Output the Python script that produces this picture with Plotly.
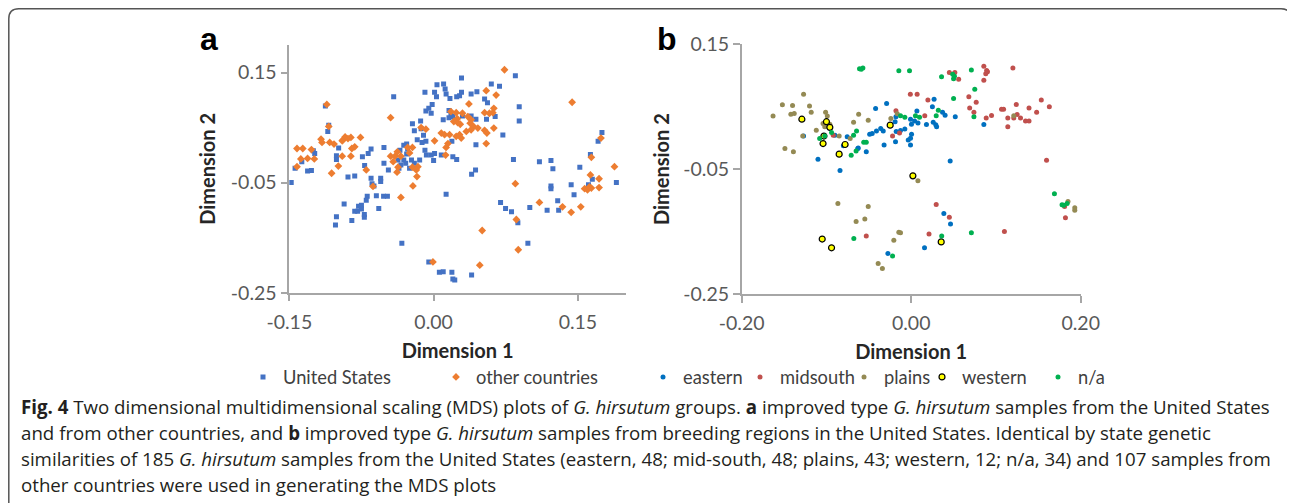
import plotly.graph_objects as go

# ---------------- Panel a data ----------------
us_x = [-0.0415, -0.1125, -0.109, -0.110, -0.1236, -0.125, -0.137, -0.144, -0.131, -0.127,
        -0.148, -0.0987, -0.101, -0.101, -0.074, -0.068, -0.065, -0.0717, -0.0516, -0.0516,
        -0.047, -0.089, -0.082, -0.065, -0.064, -0.062, -0.055, -0.055, -0.069, -0.070,
        -0.0595, -0.052, -0.048, -0.057, -0.093, -0.078, -0.075, -0.079, -0.075, -0.072,
        -0.072, -0.082, -0.101, -0.102, -0.085, -0.033, -0.037, -0.036, -0.031, -0.031,
        0.029, 0.085, 0.0035, 0.0104, -0.009, 0.001, 0.003, -0.0015, -0.005, -0.0025,
        -0.008, 0.012, 0.013, 0.017, 0.024, 0.027, 0.029, 0.039, 0.045, 0.060,
        0.0685, 0.053, 0.056, 0.016, 0.018, 0.020, 0.016, 0.010, 0.030, 0.039,
        0.044, 0.055, 0.064, 0.089, 0.089, -0.022, -0.020, -0.0135, -0.013, -0.017,
        -0.0105, -0.008, -0.028, -0.035, -0.027, -0.028, -0.009, -0.0075, -0.0025, 0.001,
        -0.012, -0.0145, 0.000, -0.023, -0.020, -0.025, -0.034, -0.029, 0.008, 0.020,
        0.024, 0.019, 0.044, 0.083, 0.0436, 0.0395, 0.013, -0.005, 0.006, 0.010,
        0.019, 0.020, 0.022, 0.0395, 0.0696, 0.0748, 0.081, 0.0876, 0.072,
        0.175, 0.171, 0.163, 0.161, 0.165, 0.110, 0.122, 0.124, 0.152, 0.122,
        0.122, 0.143, 0.190, 0.146, 0.129, 0.100, 0.118, 0.130, 0.098]
us_y = [0.106, 0.089, 0.054, 0.043, 0.003, 0.008, -0.012, -0.024, -0.029, -0.028,
        -0.050, 0.013, -0.001, -0.008, -0.003, 0.003, 0.011, -0.019, 0.014, -0.015,
        -0.027, -0.040, -0.038, -0.042, -0.052, -0.056, -0.042, -0.048, -0.075, -0.082,
        -0.074, -0.075, -0.075, -0.097, -0.089, -0.093, -0.091, -0.102, -0.098, -0.108,
        -0.113, -0.102, -0.112, -0.127, -0.119, -0.160, -0.009, -0.024, -0.009, 0.018,
        0.140, 0.144, 0.128, 0.129, 0.114, 0.114, 0.106, 0.092, 0.085, 0.076,
        0.080, 0.120, 0.111, 0.103, 0.106, 0.108, 0.114, 0.111, 0.115, 0.129,
        0.125, 0.102, 0.095, 0.081, 0.074, 0.070, 0.068, 0.064, 0.071, 0.071,
        0.065, 0.065, 0.070, 0.088, 0.062, 0.057, 0.044, 0.062, 0.048, 0.028,
        0.036, 0.025, 0.020, 0.009, 0.011, 0.002, 0.009, 0.000, 0.000, 0.003,
        0.023, -0.009, -0.010, -0.009, -0.015, -0.024, -0.018, -0.015, 0.000, -0.003,
        -0.008, 0.025, 0.019, -0.008, -0.027, -0.035, -0.071, -0.194, -0.213, -0.212,
        -0.213, -0.225, -0.227, -0.218, -0.086, -0.097, -0.103, -0.123, 0.0366,
        0.041, 0.025, 0.001, -0.054, -0.044, -0.012, -0.010, -0.025, -0.022, -0.056,
        -0.061, -0.054, -0.050, -0.072, -0.083, -0.095, -0.100, -0.100, -0.160]

oc_x = [-0.111, -0.0447, -0.109, -0.117, -0.116, -0.142, -0.136, -0.127, -0.138, -0.131,
        -0.124, -0.142, -0.108, -0.1035, -0.094, -0.092, -0.089, -0.086, -0.076, -0.095,
        -0.085, -0.082, -0.095, -0.086, -0.099, -0.106, -0.070, -0.063, -0.0447, -0.042,
        -0.040, -0.0377, -0.034, -0.037, -0.038, -0.034,
        0.0737, 0.0547, 0.065, 0.0367, 0.0626, 0.0616, 0.053, 0.058, 0.018, 0.0235,
        0.030, 0.0246, 0.021, 0.025, 0.0277, 0.0356, 0.039, 0.038, 0.0415, 0.046,
        -0.008, -0.013, 0.008, 0.0114, 0.0166, 0.0235, 0.027, 0.0287, 0.034, 0.039,
        0.053, 0.0554, 0.0626, 0.0547, 0.001, 0.013, 0.0149, 0.0125, -0.027, -0.022,
        -0.025, -0.022, -0.0163, -0.018, -0.0173, -0.0215, 0.085, 0.086, 0.0505, 0.088,
        -0.0007, 0.048,
        0.144, 0.174, 0.164, 0.188, 0.163, 0.172, 0.172, 0.157, 0.160, 0.162,
        0.164, 0.110, 0.134, 0.143, 0.153]
oc_y = [0.092, 0.068, 0.052, 0.029, 0.023, 0.012, 0.012, 0.010, -0.007, -0.006,
        -0.007, -0.021, 0.023, 0.020, 0.028, 0.033, 0.030, 0.032, 0.032, 0.026,
        0.012, 0.015, -0.002, -0.002, -0.020, -0.033, -0.027, -0.057, -0.002, -0.012,
        -0.002, 0.006, -0.002, -0.022, -0.031, -0.077,
        0.155, 0.117, 0.109, 0.093, 0.085, 0.077, 0.077, 0.076, 0.079, 0.077,
        0.076, 0.066, 0.061, 0.059, 0.056, 0.070, 0.064, 0.058, 0.052, 0.049,
        0.047, 0.050, 0.040, 0.037, 0.037, 0.034, 0.037, 0.031, 0.043, 0.046,
        0.045, 0.040, 0.049, 0.021, 0.026, 0.014, 0.021, 0.000, 0.014, 0.014,
        0.004, -0.022, -0.021, -0.027, -0.039, -0.056, -0.052, -0.117, -0.137, -0.172,
        -0.194, -0.200,
        0.096, 0.031, -0.004, -0.021, -0.036, -0.043, -0.059, -0.061, -0.063, -0.058,
        -0.060, -0.086, -0.094, -0.104, -0.094]

# ---------------- Panel b data ----------------
east_x = [-0.127, -0.090, -0.080, -0.0755, -0.063, -0.110, -0.084, -0.042, -0.029, 0.027,
          0.025, 0.0067, -0.0008, -0.018, -0.019, 0.004, 0.0003, 0.008, 0.018, 0.026,
          0.029, 0.030, 0.037, 0.040, 0.052, -0.0126, -0.0075, -0.0177, -0.036, -0.033,
          -0.041, -0.046, -0.049, 0.0004, -0.0008, -0.0035, -0.0185, -0.032, -0.0008, -0.0625,
          -0.053, 0.046, 0.0385, 0.0464, 0.0157, -0.0275, 0.0857]
east_y = [0.003, 0.0045, -0.0126, 0.002, -0.017, -0.034, -0.052, 0.047, 0.055, 0.062,
          0.050, 0.043, 0.030, 0.034, 0.026, 0.027, 0.022, 0.024, 0.0216, 0.025,
          0.021, 0.018, 0.041, 0.0365, 0.034, 0.012, 0.0145, 0.0105, 0.015, 0.011,
          0.011, 0.007, 0.006, 0.006, -0.0005, -0.0035, -0.006, -0.0115, -0.0115, -0.016,
          -0.022, -0.037, -0.121, -0.138, -0.176, -0.185, 0.0216]

mid_x = [-0.092, -0.001, 0.007, 0.0197, 0.045, 0.0515, 0.056, 0.068, 0.069, 0.074,
         -0.018, 0.016, -0.022, -0.0138, 0.0295, 0.045, 0.021, -0.053, 0.0857, 0.089,
         0.090, 0.088, 0.120, 0.0857, 0.0767, 0.0885, 0.0948, 0.1066, 0.109, 0.124,
         0.139, 0.1535, 0.163, 0.148, 0.114, 0.121, 0.125, 0.129, 0.1349, 0.139,
         0.114, 0.1597, 0.182, 0.181, 0.110]
mid_y = [0.0045, 0.070, 0.070, 0.0606, 0.105, 0.105, 0.094, 0.066, 0.048, 0.041,
         0.0435, 0.0355, 0.003, 0.008, -0.1066, -0.127, -0.154, -0.157, 0.115, 0.108,
         0.106, 0.103, 0.112, 0.0926, 0.057, 0.032, 0.036, 0.046, 0.046, 0.0536,
         0.048, 0.0606, 0.050, 0.041, 0.032, 0.032, 0.0376, 0.032, 0.027, 0.027,
         0.018, -0.0356, -0.128, -0.110, -0.150]

plains_x = [-0.127, -0.152, -0.140, -0.120, -0.163, -0.142, -0.138, -0.118, -0.101, -0.099,
            -0.104, -0.102, -0.099, -0.096, -0.112, -0.128, -0.149, -0.139, -0.085, -0.072,
            -0.068, -0.062, -0.0865, -0.065, -0.0507, -0.024, -0.0165, 0.0079, -0.0507, -0.0547,
            -0.0146, -0.0126, -0.0205, -0.039, -0.034, 0.121, 0.185, 0.193, 0.193]
plains_y = [0.070, 0.053, 0.052, 0.051, 0.035, 0.038, 0.039, 0.041, 0.041, 0.035,
            0.023, 0.018, 0.021, 0.022, 0.0125, 0.003, -0.017, -0.022, 0.003, -0.001,
            0.025, 0.038, -0.105, -0.134, 0.0285, 0.031, 0.0387, -0.0687, -0.110, -0.130,
            -0.151, -0.152, -0.164, -0.201, -0.209, 0.0355, -0.102, -0.112, -0.116]

west_x = [-0.129, -0.100, -0.096, -0.103, -0.104, -0.078, -0.085, -0.105, -0.094, -0.0248,
          0.002, 0.0354]
west_y = [0.030, 0.026, 0.017, 0.003, -0.009, -0.0105, -0.026, -0.162, -0.176, 0.0205,
          -0.0607, -0.1665]

na_x = [-0.061, -0.057, -0.059, -0.094, -0.108, -0.102, -0.068, -0.0645, -0.0708, -0.065,
        -0.0677, -0.0146, -0.002, 0.0358, 0.049, 0.050, 0.051, 0.071, 0.050, 0.032,
        0.0295, -0.0126, -0.0075, 0.005, 0.0098, -0.056, -0.053, -0.022, 0.036, 0.071,
        0.075, 0.074, 0.169, 0.178, 0.180, 0.184]
na_y = [0.111, 0.112, 0.110, 0.0088, -0.001, 0.003, 0.0045, 0.011, -0.0276, -0.021,
        -0.161, 0.1076, 0.1076, 0.098, 0.102, 0.095, 0.099, 0.109, 0.063, 0.0445,
        0.0355, 0.0355, 0.033, 0.0355, 0.033, -0.007, -0.007, -0.189, -0.157, -0.152,
        0.078, 0.034, -0.0895, -0.107, -0.108, -0.105]

# ---------------- Axis ticks ----------------
a_xticks = [-0.15, 0.0, 0.15]
a_xtext = ["-0.15", "0.00", "0.15"]
a_yticks = [0.15, -0.05, -0.25]
a_ytext = ["0.15", "-0.05", "-0.25"]
b_xticks = [-0.20, 0.0, 0.20]
b_xtext = ["-0.20", "0.00", "0.20"]
b_yticks = [0.15, -0.05, -0.25]
b_ytext = ["0.15", "-0.05", "-0.25"]

caption_lines = [
    "<b>Fig. 4</b> Two dimensional multidimensional scaling (MDS) plots of <i>G. hirsutum</i> groups. "
    "<b>a</b> improved type <i>G. hirsutum</i> samples from the United States",
    "and from other countries, and <b>b</b> improved type <i>G. hirsutum</i> samples from breeding "
    "regions in the United States. Identical by state genetic",
    "similarities of 185 <i>G. hirsutum</i> samples from the United States (eastern, 48; mid-south, 48; "
    "plains, 43; western, 12; n/a, 34) and 107 samples from",
    "other countries were used in generating the MDS plots",
]

# The page body has an 8px margin, so the figure starts at (8, 8) of the window.
OFF = 8
W, H = 1295 - OFF, 503 - OFF
FONT = "Lato"
AX = "#a6a6a6"
TICKC = "#595959"


def px(x):
    return (x - OFF) / W


def py(y):
    return 1 - (y - OFF) / H


fig = go.Figure()

fig.add_trace(go.Scatter(x=us_x, y=us_y, mode="markers", name="United States",
                         marker=dict(symbol="square", size=5, color="#4472C4"),
                         xaxis="x", yaxis="y", legend="legend"))
fig.add_trace(go.Scatter(x=oc_x, y=oc_y, mode="markers", name="other countries",
                         marker=dict(symbol="diamond", size=6, color="#ED7D31"),
                         xaxis="x", yaxis="y", legend="legend"))

b_series = [
    ("eastern", east_x, east_y, dict(symbol="circle", size=5, color="#0070C0"), "legend2"),
    ("midsouth", mid_x, mid_y, dict(symbol="circle", size=5, color="#C0504D"), "legend3"),
    ("plains", plains_x, plains_y, dict(symbol="circle", size=5, color="#948A54"), "legend4"),
    ("western", west_x, west_y, dict(symbol="circle", size=6, color="#FFFF00",
                                     line=dict(color="#000000", width=1.2)), "legend5"),
    ("n/a", na_x, na_y, dict(symbol="circle", size=5, color="#00B050"), "legend6"),
]
for name, xs, ys, mk, lg in b_series:
    fig.add_trace(go.Scatter(x=xs, y=ys, mode="markers", name=name, marker=mk,
                             xaxis="x2", yaxis="y2", legend=lg))

a_xdom = [px(289.3), px(626)]
a_ydom = [py(292.7), py(45)]
b_xdom = [px(741.7), px(1080.7)]
b_ydom = [py(294), py(44.3)]

tickfont = dict(family=FONT, size=19.5, color=TICKC)
titlefont = dict(family=FONT, size=20, color="#262626", weight="bold")


def main_axis(dom, anchor, rng, tv, tt, title, standoff, tls):
    return dict(domain=dom, anchor=anchor, range=rng, tickvals=tv, ticktext=tt,
                showline=True, linecolor=AX, linewidth=1.5, ticks="outside",
                ticklen=7, tickwidth=1.5, tickcolor=AX, showgrid=False, zeroline=False,
                tickfont=tickfont, ticklabelstandoff=tls,
                title=dict(text=title, font=titlefont, standoff=standoff),
                automargin=False, fixedrange=True)


def overlay_axis(dom, over, anchor, rng, tv):
    return dict(domain=dom, overlaying=over, anchor=anchor, range=rng, tickvals=tv,
                showticklabels=False, showline=False, ticks="inside", ticklen=7,
                tickwidth=1.5, tickcolor=AX, showgrid=False, zeroline=False,
                automargin=False, fixedrange=True)


shapes = []
# outer frame with rounded top corners (page decoration)
L, R, T, rr = OFF + 0.8, 1291, OFF + 0.8, 10
path = (f"M {px(L)},{py(H + 20)} L {px(L)},{py(T + rr)} Q {px(L)},{py(T)} {px(L + rr)},{py(T)} "
        f"L {px(R - rr)},{py(T)} Q {px(R)},{py(T)} {px(R)},{py(T + rr)} L {px(R)},{py(H + 20)}")
shapes.append(dict(type="path", xref="paper", yref="paper", path=path,
                   line=dict(color="#555555", width=1.5)))

annotations = [
    dict(text="<b>a</b>", x=px(198), y=py(59), xref="paper", yref="paper", xanchor="left",
         yanchor="bottom", showarrow=False, font=dict(family="Liberation Sans", size=32, color="#000")),
    dict(text="<b>b</b>", x=px(655), y=py(59), xref="paper", yref="paper", xanchor="left",
         yanchor="bottom", showarrow=False, font=dict(family="Liberation Sans", size=32, color="#000")),
]
cap_y = [406, 432, 458, 484]
for line, yy in zip(caption_lines, cap_y):
    annotations.append(dict(text=line, x=px(19), y=py(yy), xref="paper", yref="paper",
                            xanchor="left", yanchor="middle", showarrow=False, align="left",
                            font=dict(family="Open Sans", size=18.7, color="#231f20")))

legfont = dict(family=FONT, size=18.3, color="#404040")
leg_y = py(377)


def leg(x0, **kw):
    d = dict(orientation="h", x=px(x0), y=leg_y, xanchor="left", yanchor="middle",
             font=legfont, bgcolor="rgba(0,0,0,0)")
    d.update(kw)
    return d


fig.update_layout(
    width=W, height=H, margin=dict(l=0, r=0, t=0, b=0, pad=0, autoexpand=False),
    paper_bgcolor="white", plot_bgcolor="white",
    xaxis=main_axis(a_xdom, "y", [-0.15, 0.2], a_xticks, a_xtext, "Dimension 1", 12, 4),
    yaxis=main_axis(a_ydom, "x", [-0.25, 0.2], a_yticks, a_ytext, "Dimension 2", 10, 0),
    xaxis2=main_axis(b_xdom, "y2", [-0.2, 0.2], b_xticks, b_xtext, "Dimension 1", 12, 4),
    yaxis2=main_axis(b_ydom, "x2", [-0.25, 0.15], b_yticks, b_ytext, "Dimension 2", 8, 0),
    xaxis3=overlay_axis(a_xdom, "x", "y", [-0.15, 0.2], a_xticks),
    yaxis3=overlay_axis(a_ydom, "y", "x", [-0.25, 0.2], a_yticks),
    xaxis4=overlay_axis(b_xdom, "x2", "y2", [-0.2, 0.2], b_xticks),
    yaxis4=overlay_axis(b_ydom, "y2", "x2", [-0.25, 0.15], b_yticks),
    legend=leg(243, entrywidth=148),
    legend2=leg(643),
    legend3=leg(740),
    legend4=leg(844),
    legend5=leg(922),
    legend6=leg(1038),
    shapes=shapes, annotations=annotations,
)

fig.write_html("out.html")
